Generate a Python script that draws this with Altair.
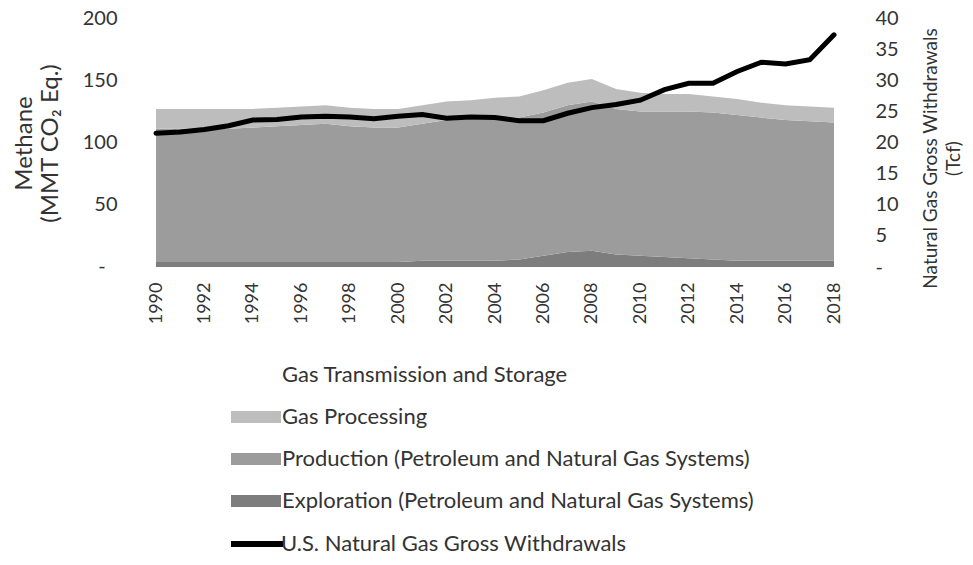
import altair as alt
import pandas as pd

years = list(range(1990, 2019))
exploration = [4,4,4,4,4,4,4,4,4,4,4,5,5,5,5,6,9,12,13,10,9,8,7,6,5,5,5,5,5]
production = [107,107,107,107,108,109,110,111,109,108,108,110,113,113,115,114,115,118,120,117,116,117,118,118,117,115,113,112,111]
processing = [16,16,16,16,15,15,15,15,15,15,15,15,15,16,16,17,18,18,18,16,15,14,14,13,13,12,12,12,12]
withdrawals = [21.5,21.7,22.1,22.7,23.6,23.7,24.1,24.2,24.1,23.8,24.2,24.5,23.9,24.1,24.0,23.5,23.5,24.7,25.6,26.1,26.8,28.5,29.5,29.5,31.4,32.9,32.6,33.3,37.3]

area_names = ["Gas Transmission and Storage", "Gas Processing",
              "Production (Petroleum and Natural Gas Systems)",
              "Exploration (Petroleum and Natural Gas Systems)"]
area_colors = ["white", "#bdbdbd", "#9c9c9c", "#7d7d7d"]
line_name = "U.S. Natural Gas Gross Withdrawals"

rows = []
for i, y in enumerate(years):
    rows.append({"year": y, "series": area_names[3], "order": 0, "value": exploration[i]})
    rows.append({"year": y, "series": area_names[2], "order": 1, "value": production[i]})
    rows.append({"year": y, "series": area_names[1], "order": 2, "value": processing[i]})
area_df = pd.DataFrame(rows)
line_df = pd.DataFrame({"year": years, "value": withdrawals, "series": line_name})
zero_df = pd.DataFrame({"value": [0], "label": ["-"]})

FONT = "Lato"
TXT = "#333333"

x_enc = alt.X("year:Q", scale=alt.Scale(domain=[1990, 2018], nice=False, zero=False),
              axis=alt.Axis(values=list(range(1990, 2019, 2)), format="d", labelAngle=-90,
                            labelPadding=15, ticks=False, domain=False, grid=False, title=None,
                            labelFontSize=18, labelFont=FONT, labelColor=TXT))

legend_common = dict(title=None, orient="none", legendX=89, symbolSize=400,
                     labelFont=FONT, labelFontSize=22, labelColor=TXT,
                     labelLimit=700)

areas = alt.Chart(area_df).mark_area(opacity=1).encode(
    x=x_enc,
    y=alt.Y("value:Q", stack="zero", scale=alt.Scale(domain=[0, 200], nice=False),
            axis=alt.Axis(values=[0, 50, 100, 150, 200], grid=False, ticks=False, domain=False,
                          labelExpr="datum.value == 0 ? '' : datum.label",
                          labelPadding=39,
                          labelFontSize=20, labelFont=FONT, labelColor=TXT,
                          title=["Methane", "(MMT CO₂ Eq.)"], titleAngle=-90,
                          titleX=-132, titleY=125, titleAlign="center", titleBaseline="middle",
                          titleFontSize=24, titleFont=FONT, titleFontWeight="normal",
                          titleColor=TXT, titleLineHeight=26)),
    color=alt.Color("series:N", scale=alt.Scale(domain=area_names, range=area_colors),
                    legend=alt.Legend(legendY=346, symbolType="M-2.5,-0.6H2.5V0.6H-2.5Z",
                                      symbolOpacity=1, rowPadding=20, labelOffset=15,
                                      **legend_common)),
    order=alt.Order("order:Q"),
)

zero_label = alt.Chart(zero_df).mark_text(align="center", baseline="middle", fontSize=20,
                                          font=FONT, color=TXT).encode(
    x=alt.value(-54),
    y=alt.Y("value:Q", scale=alt.Scale(domain=[0, 200], nice=False), axis=None),
    text="label:N",
)

line = alt.Chart(line_df).mark_line(strokeWidth=5, strokeCap="round").encode(
    x=alt.X("year:Q"),
    y=alt.Y("value:Q", scale=alt.Scale(domain=[0, 40], nice=False),
            axis=alt.Axis(orient="right", values=list(range(0, 41, 5)), grid=False, ticks=False,
                          domain=False, labelExpr="datum.value == 0 ? '-' : datum.label",
                          labelPadding=41, labelFontSize=20, labelFont=FONT, labelColor=TXT,
                          title=["Natural Gas Gross Withdrawals", "(Tcf)"], titleAngle=-90,
                          titleX=96, titleY=140, titleAlign="center", titleBaseline="middle",
                          titleFontSize=19, titleFont=FONT, titleFontWeight="normal",
                          titleColor=TXT, titleLineHeight=23)),
    stroke=alt.Stroke("series:N", scale=alt.Scale(domain=[line_name], range=["black"]),
                      legend=alt.Legend(legendY=513, symbolType="M-2.7,0H2.5",
                                        symbolStrokeWidth=6, labelOffset=10, **legend_common)),
)

chart = alt.layer(areas, zero_label, line).resolve_scale(
    y="independent", color="independent"
).properties(
    width=678, height=249,
    autosize=alt.AutoSizeParams(type="none"),
    padding={"left": 148, "top": 10, "right": 131, "bottom": 290},
).configure_view(stroke=None)

chart.save("out.html", embed_options={"renderer": "svg", "actions": False})
